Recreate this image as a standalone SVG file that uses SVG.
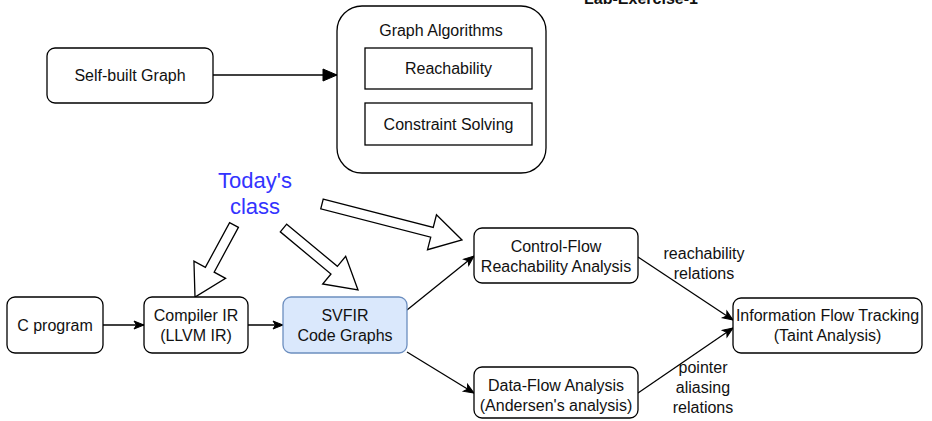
<svg xmlns="http://www.w3.org/2000/svg" width="932" height="421" viewBox="0 0 932 421">
<style>
.box{fill:#fff;stroke:#000;stroke-width:1.3}
.blue{fill:#dae8fc;stroke:#6c8ebf;stroke-width:1.3}
text{font-family:"Liberation Sans",Arial,sans-serif;font-size:16px;fill:#111;text-anchor:middle}
.edge{fill:none;stroke:#000;stroke-width:1.3}
.flex{fill:#fff;stroke:#000;stroke-width:1.3;stroke-linejoin:miter}
.today{font-size:22px;fill:#3333ff}
</style>
<defs>
<marker id="cls" markerUnits="userSpaceOnUse" markerWidth="12" markerHeight="10" refX="10" refY="4" orient="auto" overflow="visible">
<path d="M0,0 L10,4 L0,8 L2.5,4 z" fill="#000" stroke="#000" stroke-width="1"/>
</marker>
<marker id="blk" markerUnits="userSpaceOnUse" markerWidth="16" markerHeight="14" refX="14" refY="6" orient="auto" overflow="visible">
<path d="M0,0 L14,6 L0,12 z" fill="#000" stroke="#000" stroke-width="1"/>
</marker>
</defs>
<text x="641" y="4" style="font-weight:bold">Lab-Exercise-1</text>
<g id="connectors">
<path class="edge" d="M213,75 L337,75" marker-end="url(#blk)"/>
<path class="edge" d="M103,325 L144,325" marker-end="url(#cls)"/>
<path class="edge" d="M248,325 L283,325" marker-end="url(#cls)"/>
<path class="edge" d="M407,310 L474,256" marker-end="url(#cls)"/>
<path class="edge" d="M407,352 L474,393" marker-end="url(#cls)"/>
<path class="edge" d="M638,257 L733,320" marker-end="url(#cls)"/>
<path class="edge" d="M638,393 L733,328" marker-end="url(#cls)"/>
<text x="704" y="259">reachability</text>
<text x="704" y="279">relations</text>
<text x="703" y="373">pointer</text>
<text x="703" y="393">aliasing</text>
<text x="703" y="413">relations</text>
</g>
<g id="todays-class">
<text class="today" x="255" y="188">Today's</text>
<text class="today" x="255" y="214">class</text>
<polygon class="flex" points="238.40,227.38 214.16,272.13 225.58,278.32 195,297 193.94,261.18 205.36,267.37 229.60,222.62"/>
<polygon class="flex" points="286.70,224.16 337.37,266.33 345.68,256.33 358,290 322.66,284.01 330.97,274.01 280.30,231.84"/>
<polygon class="flex" points="323.25,199.16 433.23,227.44 436.46,214.85 462,240 427.50,249.71 430.73,237.12 320.75,208.84"/>
</g>
<g id="self-built-graph">
<rect class="box" x="47" y="48" width="166" height="55" rx="8"/>
<text x="130" y="81">Self-built Graph</text>
</g>
<g id="graph-algorithms">
<rect class="box" x="337" y="6" width="209" height="167" rx="25"/>
<text x="441" y="36">Graph Algorithms</text>
</g>
<g id="reachability">
<rect class="box" x="365" y="48" width="167" height="41"/>
<text x="448.5" y="74">Reachability</text>
</g>
<g id="constraint-solving">
<rect class="box" x="365" y="103" width="167" height="42"/>
<text x="448.5" y="130">Constraint Solving</text>
</g>
<g id="c-program">
<rect class="box" x="7" y="297" width="96" height="56" rx="8"/>
<text x="55" y="331">C program</text>
</g>
<g id="compiler-ir">
<rect class="box" x="144" y="297" width="104" height="56" rx="8"/>
<text x="196" y="321">Compiler IR</text>
<text x="196" y="341">(LLVM IR)</text>
</g>
<g id="svfir">
<rect class="blue" x="283" y="297" width="124" height="56" rx="8"/>
<text x="345" y="321">SVFIR</text>
<text x="345" y="341">Code Graphs</text>
</g>
<g id="control-flow">
<rect class="box" x="474" y="228" width="164" height="55" rx="8"/>
<text x="556" y="252">Control-Flow</text>
<text x="556" y="272">Reachability Analysis</text>
</g>
<g id="data-flow">
<rect class="box" x="474" y="367" width="164" height="51" rx="8"/>
<text x="556" y="391">Data-Flow Analysis</text>
<text x="556" y="411">(Andersen's analysis)</text>
</g>
<g id="info-flow">
<rect class="box" x="733" y="298" width="189" height="55" rx="8"/>
<text x="827.5" y="321">Information Flow Tracking</text>
<text x="827.5" y="341">(Taint Analysis)</text>
</g>
</svg>
